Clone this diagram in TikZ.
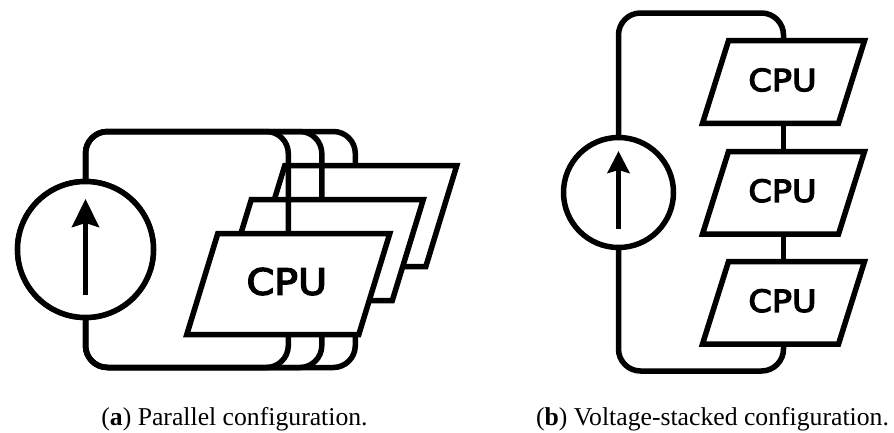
\documentclass[tikz,border=0pt]{standalone}
\usepackage{fontspec}
\setmainfont{Liberation Serif}
\newfontfamily\cpufont{DejaVu Sans}[FakeStretch=1.1,FakeBold=4]
\usetikzlibrary{arrows.meta}
\tikzset{
  wire/.style={line width=5.5pt,rounded corners=22pt},
  link/.style={line width=5.5pt},
  source/.style={circle,draw,line width=5.5pt,fill=white,inner sep=0pt,outer sep=0pt},
  frameA/.style={rectangle,inner sep=0pt,outer sep=0pt,minimum width=203pt,minimum height=101pt},
  frameB/.style={rectangle,inner sep=0pt,outer sep=0pt,minimum width=162pt,minimum height=82.6pt},
  slab/.style={draw,fill=white,line width=5.5pt},
  labelA/.style={inner sep=0pt,yshift=2.5pt,xshift=-1.5pt,font=\cpufont\fontsize{36}{36}\selectfont},
  labelB/.style={inner sep=0pt,yshift=2pt,xshift=-1pt,font=\cpufont\fontsize{30.5}{30.5}\selectfont},
  uparrowA/.style={line width=5.5pt,-{Stealth[length=28pt,width=27pt,inset=4pt]}},
  uparrowB/.style={line width=5.5pt,-{Stealth[length=22pt,width=22pt,inset=3pt]}},
  captiontext/.style={inner sep=0pt,font=\fontsize{25.7}{28}\selectfont,anchor=base}
}
% #1 name, #2 slant
\newcommand\slabshape[2]{\draw[slab] ([xshift=#2pt]#1.north west) -- (#1.north east) -- ([xshift=-#2pt]#1.south east) -- (#1.south west) -- cycle;}
\begin{document}
\begin{tikzpicture}[x=1pt,y=-1pt]
\useasboundingbox (0,0) rectangle (894,432);
% (a) Parallel configuration
\node[source,minimum size=136pt] (srcA) at (85.5,249.5) {};
\coordinate (topA) at (85.5,131.5);
\coordinate (botA) at (85.5,367.5);
\node[frameA] (cpuA3) at (355.3,216) {};
\node[frameA] (cpuA2) at (321.8,250) {};
\node[frameA] (cpuA1) at (288.3,284) {};
\draw[wire] (srcA.north) |- (cpuA3.north |- topA) -- (cpuA3.north);
\draw[wire] (srcA.south) |- (cpuA3.south |- botA) -- (cpuA3.south);
\slabshape{cpuA3}{31}
\draw[wire] (srcA.north) |- (cpuA2.north |- topA) -- (cpuA2.north);
\draw[wire] (srcA.south) |- (cpuA2.south |- botA) -- (cpuA2.south);
\slabshape{cpuA2}{31}
\draw[wire] (srcA.north) |- (cpuA1.north |- topA) -- (cpuA1.north);
\draw[wire] (srcA.south) |- (cpuA1.south |- botA) -- (cpuA1.south);
\slabshape{cpuA1}{31}
\node[labelA] (textA1) at (cpuA1.center) {CPU};
\node[source,minimum size=136pt] (srcAtop) at (srcA.center) {};
\coordinate (arrowAs) at (85.5,295);
\coordinate (arrowAe) at (85.5,199);
\draw[uparrowA] (arrowAs) -- (arrowAe);
% (b) Voltage-stacked configuration
\node[frameB] (cpuB1) at (783.5,82) {};
\node[frameB] (cpuB2) at (783.5,192.8) {};
\node[frameB] (cpuB3) at (783.5,302.8) {};
\node[source,minimum size=110pt] (srcB) at (618.5,192.5) {};
\coordinate (topB) at (618.5,13);
\coordinate (botB) at (618.5,371);
\draw[wire] (srcB.north) |- (cpuB1.north |- topB) -- (cpuB1.north);
\draw[wire] (srcB.south) |- (cpuB3.south |- botB) -- (cpuB3.south);
\draw[link] (cpuB1.south) -- (cpuB2.north);
\draw[link] (cpuB2.south) -- (cpuB3.north);
\slabshape{cpuB1}{26}
\slabshape{cpuB2}{26}
\slabshape{cpuB3}{26}
\node[labelB] (textB1) at (cpuB1.center) {CPU};
\node[labelB] (textB2) at (cpuB2.center) {CPU};
\node[labelB] (textB3) at (cpuB3.center) {CPU};
\coordinate (arrowBs) at (618.5,229);
\coordinate (arrowBe) at (618.5,151);
\draw[uparrowB] (arrowBs) -- (arrowBe);
% captions
\node[captiontext] (capA) at (234.5,425) {(\textbf{a}) Parallel configuration.};
\node[captiontext] (capB) at (712.5,425) {(\textbf{b}) Voltage-stacked configuration.};
\end{tikzpicture}
\end{document}
